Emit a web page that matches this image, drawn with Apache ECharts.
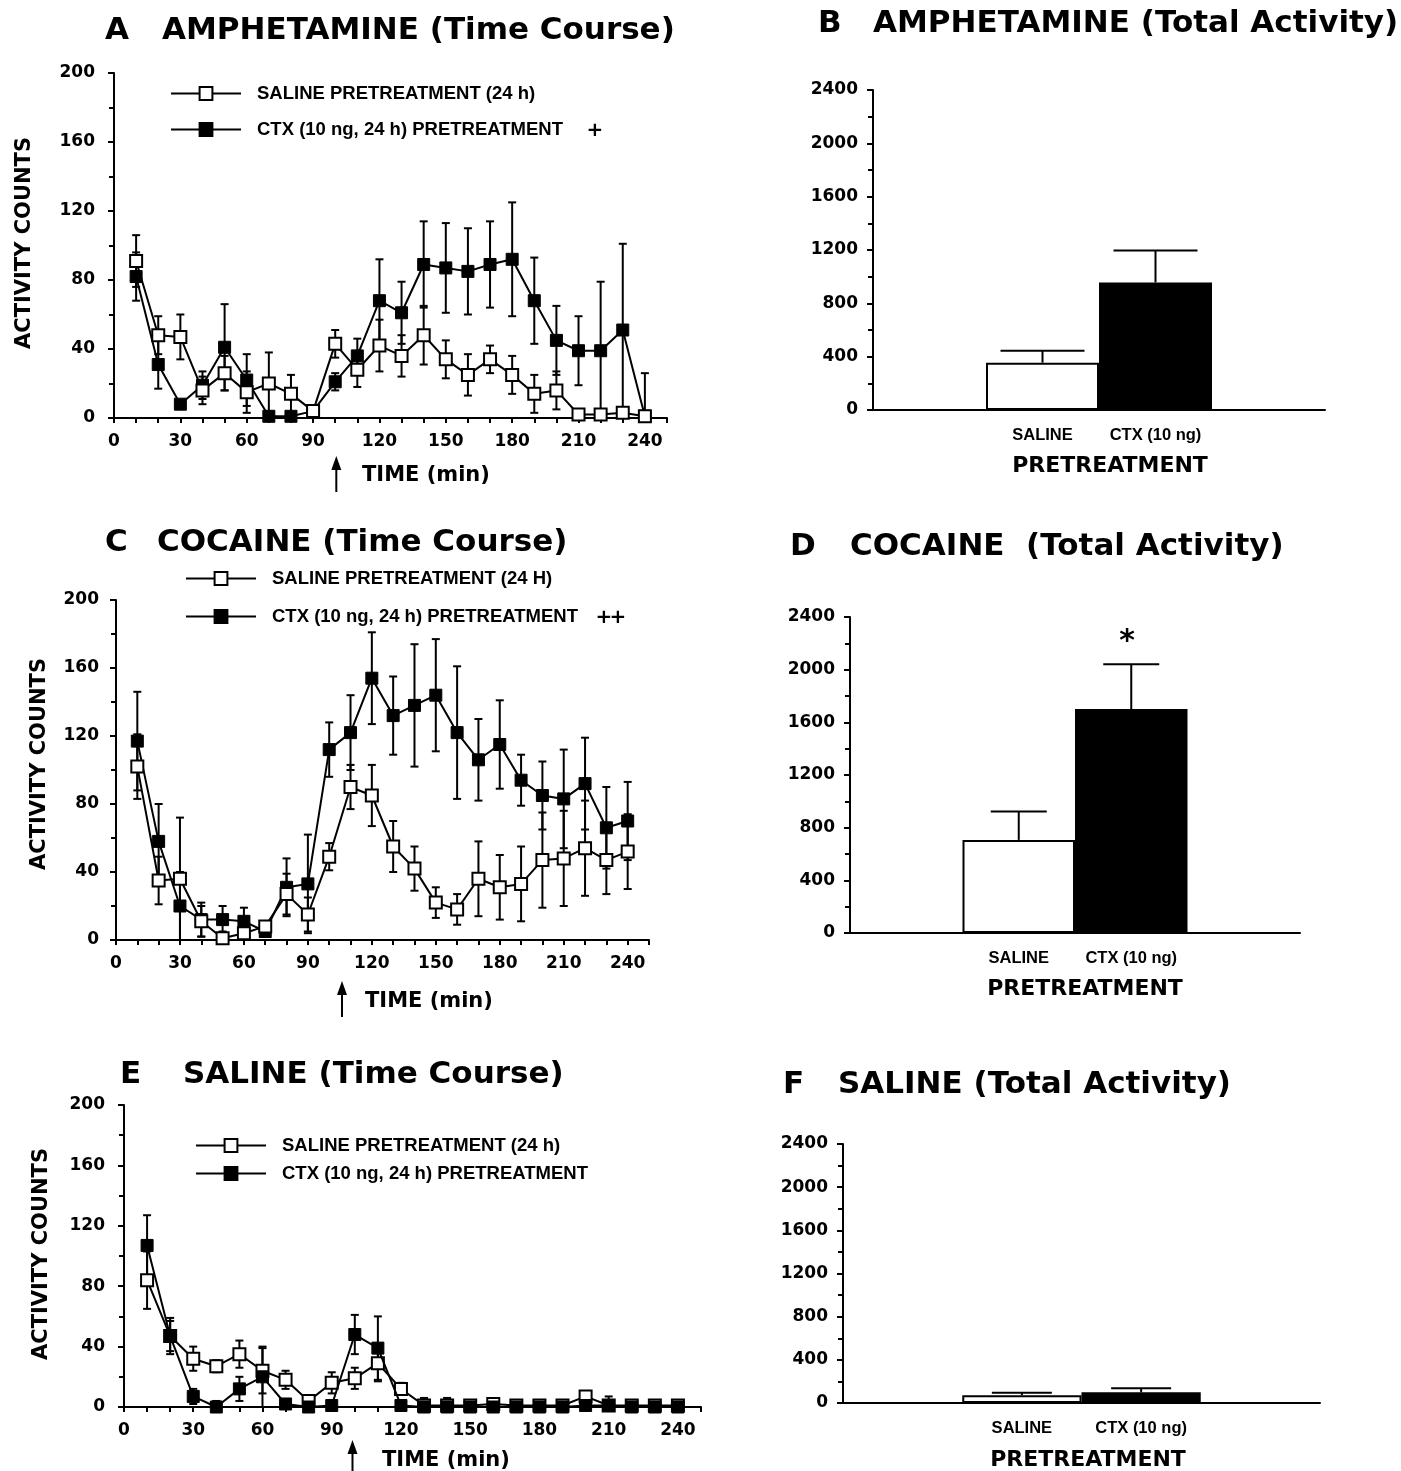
<!DOCTYPE html>
<html>
<head>
<meta charset="utf-8">
<script src="https://cdn.jsdelivr.net/npm/echarts@6/dist/echarts.min.js"></script>
<style>
  html, body { margin: 0; padding: 0; background: #fff; }
  #main { width: 1401px; height: 1471px; }
</style>
</head>
<body>
<div id="main"></div>
<script>
// time points (min)
var times = [10, 20, 30, 40, 50, 60, 70, 80, 90, 100, 110, 120, 130, 140, 150, 160, 170, 180, 190, 200, 210, 220, 230, 240];

// A - amphetamine time course
var ampSaline    = [91, 48, 47, 16, 26, 15, 20, 14, 4, 43, 28, 42, 36, 48, 34, 25, 34, 25, 14, 16, 2, 2, 3, 1];
var ampSalineErr = [15, 11, 13, 8, 10, 12, 18, 11, 3, 8, 10, 15, 12, 17, 11, 12, 8, 11, 11, 11, 2, 2, 2, 1];
var ampCtx       = [82, 31, 8, 19, 41, 22, 1, 1, 4, 21, 36, 68, 61, 89, 87, 85, 89, 92, 68, 45, 39, 39, 51, 1];
var ampCtxErr    = [14, 14, 2, 8, 25, 15, 1, 1, 2, 5, 10, 24, 18, 25, 26, 25, 25, 33, 25, 20, 20, 40, 50, 25];

// C - cocaine time course
var cocSaline    = [102, 35, 36, 11, 1, 4, 8, 27, 15, 49, 90, 85, 55, 42, 22, 18, 36, 31, 33, 47, 48, 54, 47, 52];
var cocSalineErr = [19, 14, 36, 9, 4, 8, 3, 12, 10, 8, 13, 18, 15, 13, 9, 9, 22, 19, 22, 28, 28, 28, 20, 22];
var cocCtx       = [117, 58, 20, 12, 12, 11, 5, 31, 33, 112, 122, 154, 132, 138, 144, 122, 106, 115, 94, 85, 83, 92, 66, 70];
var cocCtxErr    = [29, 22, 20, 10, 8, 8, 3, 17, 29, 16, 22, 27, 23, 36, 33, 39, 24, 26, 15, 20, 29, 27, 24, 23];

// E - saline time course
var salSaline    = [84, 47, 32, 27, 35, 24, 18, 4, 16, 19, 29, 12, 1, 1, 1, 2, 1, 1, 1, 7, 1, 1, 1, 1];
var salSalineErr = [19, 12, 8, 4, 9, 15, 6, 3, 7, 7, 12, 4, 2, 2, 2, 2, 2, 2, 2, 3, 2, 2, 2, 2];
var salCtx       = [107, 47, 7, 0, 12, 20, 2, 0, 1, 48, 39, 1, 0, 0, 0, 0, 0, 0, 0, 1, 1, 0, 0, 0];
var salCtxErr    = [20, 10, 5, 4, 8, 20, 2, 1, 1, 13, 21, 2, 6, 6, 1, 4, 1, 4, 4, 4, 6, 1, 1, 1];

// B, D, F - total activity (saline, ctx)
var barCats   = ['', 'SALINE', 'CTX (10 ng)', ''];
var ampTotal    = [355, 957];
var ampTotalErr = [90, 240];
var cocTotal    = [707, 1701];
var cocTotalErr = [215, 340];
var salTotal    = [71, 99];
var salTotalErr = [25, 37];

var timeTicks = { min: 0, max: 250, interval: 30 };
var countTicks = { min: 0, max: 200, interval: 40 };
var totalTicks = { min: 0, max: 2400, interval: 400 };

var NAME_SAL = 'SALINE PRETREATMENT (24 h)';
var NAME_SAL_C = 'SALINE PRETREATMENT (24 H)';
var NAME_CTX = 'CTX (10 ng, 24 h) PRETREATMENT';

var chart = echarts.init(document.getElementById('main'));

var TICKFONT = { fontFamily: 'DejaVu Sans', fontWeight: 'bold', fontSize: 17, color: '#000' };
var axisLine = { show: true, lineStyle: { color: '#000', width: 2 } };

function tickLabel(margin, showMax) {
  var l = { margin: margin, showMaxLabel: showMax, formatter: function (v) { return String(v); } };
  for (var k in TICKFONT) l[k] = TICKFONT[k];
  return l;
}
function timeX(grid) {
  return {
    type: 'value', gridIndex: grid, min: timeTicks.min, max: timeTicks.max, interval: timeTicks.interval,
    axisLine: axisLine, splitLine: { show: false },
    axisTick: { show: true, length: 5, lineStyle: { color: '#000', width: 2 } },
    minorTick: { show: true, splitNumber: 3, length: 5, lineStyle: { color: '#000', width: 2 } },
    axisLabel: tickLabel(15, false)
  };
}
function valY(grid, t, margin) {
  return {
    type: 'value', gridIndex: grid, min: t.min, max: t.max, interval: t.interval,
    axisLine: axisLine, splitLine: { show: false },
    axisTick: { show: true, length: 6, lineStyle: { color: '#000', width: 2 } },
    minorTick: { show: true, splitNumber: 2, length: 5, lineStyle: { color: '#000', width: 2 } },
    axisLabel: tickLabel(margin, true)
  };
}
function catX(grid) {
  return {
    type: 'category', gridIndex: grid, data: barCats,
    axisLine: axisLine, axisTick: { show: false },
    axisLabel: { margin: 17, fontFamily: 'Liberation Sans', fontWeight: 'bold', fontSize: 16.5, color: '#000', interval: 0 }
  };
}

function pts(vals) {
  return times.map(function (t, i) { return [t, vals[i]]; });
}
function errPts(vals, errs) {
  return times.map(function (t, i) { return [t, vals[i], errs[i]]; });
}

function errRender(capHalf, both) {
  return function (params, api) {
    var x = api.value(0), y = api.value(1), e = api.value(2);
    var top = api.coord([x, y + e]);
    var bot = api.coord([x, both ? Math.max(0, y - e) : y]);
    var st = { stroke: '#000', lineWidth: 2 };
    var ch = [
      { type: 'line', shape: { x1: top[0], y1: top[1], x2: bot[0], y2: bot[1] }, style: st },
      { type: 'line', shape: { x1: top[0] - capHalf, y1: top[1], x2: top[0] + capHalf, y2: top[1] }, style: st }
    ];
    if (both) ch.push({ type: 'line', shape: { x1: bot[0] - capHalf, y1: bot[1], x2: bot[0] + capHalf, y2: bot[1] }, style: st });
    return { type: 'group', children: ch };
  };
}

function lineSeries(name, grid, vals, open, z) {
  return {
    name: name, type: 'line', xAxisIndex: grid, yAxisIndex: grid, data: pts(vals),
    symbol: 'rect', symbolSize: 12, z: z,
    lineStyle: { color: '#000', width: 2 },
    itemStyle: open ? { color: '#fff', borderColor: '#000', borderWidth: 2 } : { color: '#000', borderColor: '#000', borderWidth: 1 },
    emphasis: { disabled: true }
  };
}
function errSeries(grid, vals, errs) {
  return {
    type: 'custom', xAxisIndex: grid, yAxisIndex: grid, data: errPts(vals, errs),
    renderItem: errRender(4, true), clip: false, z: 1, silent: true
  };
}
function barSeries(grid, vals) {
  return {
    type: 'bar', xAxisIndex: grid, yAxisIndex: grid, barWidth: '100%', z: 2,
    data: [null,
      { value: vals[0], itemStyle: { color: '#fff', borderColor: '#000', borderWidth: 2 } },
      { value: vals[1], itemStyle: { color: '#000', borderColor: '#000', borderWidth: 2 } },
      null],
    emphasis: { disabled: true }
  };
}
function barErr(grid, vals, errs, cap) {
  return {
    type: 'custom', xAxisIndex: grid, yAxisIndex: grid,
    data: [[1, vals[0], errs[0]], [2, vals[1], errs[1]]],
    renderItem: errRender(cap, false), clip: false, z: 1, silent: true
  };
}

var legendText = { fontFamily: 'Liberation Sans', fontWeight: 'bold', fontSize: 18.5, color: '#000', padding: [0, 0, 0, 11] };
function legendAt(left, top, gap, names) {
  return { left: left, top: top, orient: 'vertical', itemWidth: 70, itemHeight: 16, itemGap: gap, data: names, textStyle: legendText, selectedMode: false };
}

var option = {
  backgroundColor: '#fff',
  animation: false,
  grid: [
    { left: 114, top: 73, width: 553, height: 345 },
    { left: 873, top: 90, width: 452, height: 320 },
    { left: 116, top: 600, width: 533, height: 340 },
    { left: 850, top: 617, width: 450, height: 316 },
    { left: 124, top: 1105, width: 577, height: 302 },
    { left: 843, top: 1144, width: 477, height: 259 }
  ],
  xAxis: [timeX(0), catX(1), timeX(2), catX(3), timeX(4), catX(5)],
  yAxis: [valY(0, countTicks, 19), valY(1, totalTicks, 15), valY(2, countTicks, 17), valY(3, totalTicks, 15), valY(4, countTicks, 19), valY(5, totalTicks, 15)],
  legend: [
    legendAt(165, 79, 17, [NAME_SAL, NAME_CTX]),
    legendAt(180, 564, 19, [NAME_SAL_C, NAME_CTX]),
    legendAt(190, 1131, 9, [NAME_SAL, NAME_CTX])
  ],
  series: [
    errSeries(0, ampCtx, ampCtxErr), errSeries(0, ampSaline, ampSalineErr),
    lineSeries(NAME_CTX, 0, ampCtx, false, 3), lineSeries(NAME_SAL, 0, ampSaline, true, 4),
    errSeries(2, cocCtx, cocCtxErr), errSeries(2, cocSaline, cocSalineErr),
    lineSeries(NAME_CTX, 2, cocCtx, false, 3), lineSeries(NAME_SAL_C, 2, cocSaline, true, 4),
    errSeries(4, salCtx, salCtxErr), errSeries(4, salSaline, salSalineErr),
    lineSeries(NAME_CTX, 4, salCtx, false, 4), lineSeries(NAME_SAL, 4, salSaline, true, 3),
    barErr(1, ampTotal, ampTotalErr, 42), barSeries(1, ampTotal),
    barErr(3, cocTotal, cocTotalErr, 28), barSeries(3, cocTotal),
    barErr(5, salTotal, salTotalErr, 30), barSeries(5, salTotal)
  ]
};
chart.setOption(option);

// free text, arrows
function txt(x, y, s, size, opts) {
  opts = opts || {};
  return {
    type: 'text', x: x, y: y, rotation: opts.rot || 0, silent: true,
    style: {
      text: s, fill: '#000',
      font: (opts.weight || 'bold') + ' ' + size + 'px ' + (opts.family || '"DejaVu Sans"'),
      align: opts.align || 'left', verticalAlign: 'middle',
      textAlign: opts.align || 'left', textVerticalAlign: 'middle'
    }
  };
}
function arrow(xAxisIdx, val, y1, y2) {
  var x = chart.convertToPixel({ xAxisIndex: xAxisIdx }, val);
  return {
    type: 'group', silent: true,
    children: [
      { type: 'line', shape: { x1: x, y1: y1 + 10, x2: x, y2: y2 }, style: { stroke: '#000', lineWidth: 2 } },
      { type: 'polygon', shape: { points: [[x, y1], [x - 5, y1 + 14], [x + 5, y1 + 14]] }, style: { fill: '#000' } }
    ]
  };
}

var TITLE = 31;
var graphics = [
  txt(105, 31, 'A', TITLE), txt(162, 31, 'AMPHETAMINE (Time Course)', TITLE),
  txt(818, 24, 'B', TITLE), txt(873, 24, 'AMPHETAMINE (Total Activity)', TITLE),
  txt(105, 543, 'C', TITLE), txt(157, 543, 'COCAINE (Time Course)', TITLE),
  txt(790, 547, 'D', TITLE), txt(850, 547, 'COCAINE  (Total Activity)', TITLE),
  txt(120, 1075, 'E', TITLE), txt(183, 1075, 'SALINE (Time Course)', TITLE),
  txt(783, 1085, 'F', TITLE), txt(838, 1085, 'SALINE (Total Activity)', TITLE),

  txt(25, 243, 'ACTIVITY COUNTS', 21, { rot: Math.PI / 2, align: 'center' }),
  txt(40, 764, 'ACTIVITY COUNTS', 21, { rot: Math.PI / 2, align: 'center' }),
  txt(42, 1254, 'ACTIVITY COUNTS', 21, { rot: Math.PI / 2, align: 'center' }),

  txt(362, 476, 'TIME (min)', 21), txt(365, 1002, 'TIME (min)', 21), txt(382, 1461, 'TIME (min)', 21),
  txt(1110, 466, 'PRETREATMENT', 22, { align: 'center' }),
  txt(1085, 989, 'PRETREATMENT', 22, { align: 'center' }),
  txt(1088, 1460, 'PRETREATMENT', 22, { align: 'center' }),

  txt(595, 131, '+', 20, { align: 'center' }),
  txt(604, 618, '+', 20, { align: 'center' }), txt(618, 618, '+', 20, { align: 'center' }),
  txt(1127, 642, '*', 30, { align: 'center' }),

  arrow(0, 100.5, 456, 492),
  arrow(2, 106, 981, 1017),
  arrow(4, 99, 1440, 1471)
];
chart.setOption({ graphic: graphics });
</script>
</body>
</html>
